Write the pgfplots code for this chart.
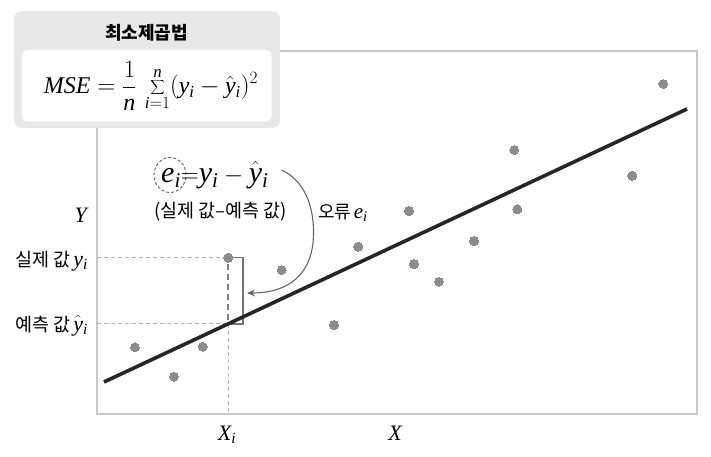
\documentclass[border=0pt]{standalone}
\usepackage{pgfplots}
\pgfplotsset{compat=1.18}
\usepackage{fontspec}
\setmainfont{Liberation Serif}
\newfontfamily\kr{Noto Sans CJK KR}
\usetikzlibrary{arrows.meta}
\newcommand{\mi}[1]{\mathit{#1}}
\newcommand{\fs}[1]{\fontsize{#1}{#1}\selectfont}

\begin{document}
\begin{tikzpicture}
\path[use as bounding box] (0,0) rectangle (711pt,456pt);
\begin{axis}[at={(97pt,42pt)}, anchor=south west, scale only axis,
  width=600pt, height=363pt, xmin=0, xmax=600, ymin=0, ymax=363,
  xtick=\empty, ytick=\empty,
  axis line style={draw=black!22, line width=1.3pt}, clip=false]
% guide lines
\addplot[draw=black!30, line width=0.9pt, dash pattern=on 4pt off 3pt] coordinates {(0,156.3) (131.3,156.3)};
\addplot[draw=black!30, line width=0.9pt, dash pattern=on 4pt off 3pt] coordinates {(0,90.2) (131.3,90.2)};
\addplot[draw=black!30, line width=0.9pt, dash pattern=on 4pt off 3pt] coordinates {(131.3,90.2) (131.3,0)};
\addplot[draw=black!50, line width=2.3pt, dash pattern=on 6pt off 4pt] coordinates {(131.3,150) (131.3,90.2)};
\addplot[draw=black!55, line width=1.1pt] coordinates {(135,156.3) (146,156.3) (146,90) (134,90)};
% regression line
\addplot[draw=black!85, line width=3.6pt] coordinates {(7,32) (590,305)};
% data points
\addplot[only marks, color=black!45, mark=*, mark size=4.5pt, mark options={fill=black!45, draw=black!45, line width=0pt}] coordinates {
(38,66.7) (77,37.3) (105.7,67.3) (131.3,156.3) (184.7,144) (237,89)
(261.3,167.3) (312,203) (317,150) (342,132.3) (377,173) (417.3,264)
(420.3,204.7) (535.3,238.3) (566.3,330)};
% arrow
\draw[black!60, line width=1.1pt, -{Stealth[length=8pt,width=7pt]}]
  (axis cs:184.7,244) .. controls (axis cs:206,234) and (axis cs:217,210) .. (axis cs:216.5,180)
  .. controls (axis cs:216,140) and (axis cs:192,121) .. (axis cs:150,121);
% dashed ellipse around e_i
\draw[black!60, line width=0.9pt, dash pattern=on 3pt off 2pt] (axis cs:73,239) ellipse [x radius=16pt, y radius=17.5pt];
\node[anchor=base west, inner sep=0] at (axis cs:64,232) {\fs{30}$\mi{e}_{\mi{i}}{=}\mi{y}_{\mi{i}} - \hat{\mi{y}}_{\mi{i}}$};
\node[inner sep=0] at (axis cs:123.5,202.3) {\kr\fs{18.5}(실제 값–예측 값)};
\node[anchor=west, inner sep=0] at (axis cs:221,201) {{\kr\fs{18}오류} {\fs{21}$\mi{e}_{\mi{i}}$}};
% axis labels
\node[anchor=east, inner sep=0] at (axis cs:-10,199) {\fs{22}$\mi{Y}$};
\node[anchor=base east, inner sep=0] at (axis cs:-9,148) {{\kr\fs{18.5}실제 값}\hspace{3pt}{\fs{22}$\mi{y}_{\mi{i}}$}};
\node[anchor=base east, inner sep=0] at (axis cs:-9,83) {{\kr\fs{18.5}예측 값}\hspace{3pt}{\fs{22}$\hat{\mi{y}}_{\mi{i}}$}};
\node[anchor=base, inner sep=0] at (axis cs:130,-26) {\fs{22}$\mi{X}_{\mi{i}}$};
\node[anchor=base, inner sep=0] at (axis cs:298,-26) {\fs{22}$\mi{X}$};
\end{axis}
% formula box
\fill[black!9, rounded corners=8pt] (14pt,445pt) rectangle (280pt,328pt);
\fill[white, rounded corners=6pt] (21.7pt,406pt) rectangle (271.7pt,334.3pt);
\node[inner sep=0] at (146.7pt,423pt) {\kr\bfseries\fs{18}최소제곱법};
\node[inner sep=0] at (151pt,370pt) {\fs{24}$\displaystyle \mi{MSE} = \frac{1}{\mi{n}}\,\sum_{\mi{i}=1}^{\mi{n}}(\mi{y}_{\mi{i}} - \hat{\mi{y}}_{\mi{i}})^2$};
\end{tikzpicture}
\end{document}
